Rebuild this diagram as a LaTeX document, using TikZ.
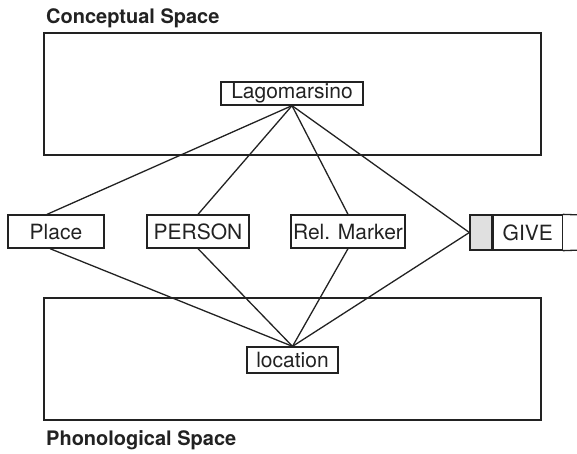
\documentclass[tikz,border=0pt]{standalone}
\usepackage{fontspec}
\setmainfont{TeX Gyre Heros}
\usetikzlibrary{calc}
\definecolor{ink}{HTML}{222222}
\definecolor{cellgray}{HTML}{E0E0E0}
\begin{document}
\begin{tikzpicture}[x=1pt,y=-1pt,
  spacebox/.style={draw=ink, line width=1.8pt, minimum width=497pt, minimum height=122pt, inner sep=0pt},
  spacelabel/.style={anchor=base west, inner sep=0pt, text=ink, font=\fontsize{20}{24}\selectfont\bfseries},
  word/.style={draw=ink, line width=1.3pt, inner sep=0pt, text=ink, font=\fontsize{21}{25}\selectfont},
  link/.style={draw=ink, line width=1.3pt}
]
\useasboundingbox (0,0) rectangle (577,453);

% the two spaces
\node[spacebox] (cspace) at (292.5,94) {};
\node[spacelabel] (clabel) at (46,23) {Conceptual Space};
\node[spacebox] (pspace) at (292.5,359) {};
\node[spacelabel] (plabel) at (46,445) {Phonological Space};

% concept and form
\node[word, minimum width=142pt, minimum height=23pt] (lago) at (292,93.5) {Lagomarsino};
\node[word, minimum width=91pt, minimum height=26pt] (loc) at (292.5,360) {location};

% middle row
\node[word, minimum width=96pt, minimum height=33pt] (place) at (56,231.5) {Place};
\node[word, minimum width=102pt, minimum height=33pt] (person) at (198,231.5) {PERSON};
\node[word, minimum width=114pt, minimum height=33pt] (rel) at (348,231.5) {Rel. Marker};
\node[draw=ink, fill=cellgray, line width=1.3pt, minimum width=22pt, minimum height=35pt, inner sep=0pt] (cell) at (481,232.5) {};
\node[word, anchor=west, minimum width=69pt, minimum height=35pt] (give) at (cell.east) {GIVE};
\coordinate (gtop) at (582,215);
\coordinate (gbot) at (582,250);
\draw[link] (give.north east) -- (gtop);
\draw[link] (give.south east) -- (gbot);

% connectors
\draw[link] (lago.south) -- ([xshift=-9pt]place.north);
\draw[link] (lago.south) -- (person.north);
\draw[link] (lago.south) -- (rel.north);
\draw[link] (lago.south) -- (cell.west);
\draw[link] (loc.north) -- ([xshift=-6pt]place.south);
\draw[link] (loc.north) -- (person.south);
\draw[link] (loc.north) -- (rel.south);
\draw[link] (loc.north) -- (cell.west);
\end{tikzpicture}
\end{document}
